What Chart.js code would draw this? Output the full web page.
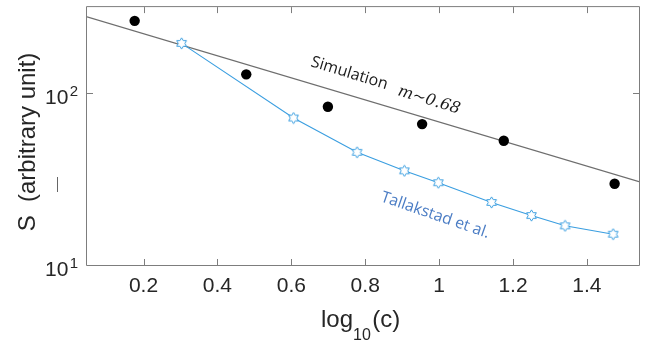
<!DOCTYPE html>
<html>
<head>
<meta charset="utf-8">
<script src="https://cdn.jsdelivr.net/npm/chart.js@4/dist/chart.umd.min.js"></script>
<style>
html,body{margin:0;padding:0;background:#fff;}
#wrap{width:653px;height:345px;}
</style>
</head>
<body>
<div id="wrap"><canvas id="c" width="653" height="345"></canvas></div>
<script>
// ---- data ----
const simX = [0.176, 0.478, 0.699, 0.954, 1.175, 1.475];
const simY = [263, 128.5, 83.2, 66, 52.8, 29.7];
const talX = [0.303, 0.606, 0.778, 0.906, 0.998, 1.142, 1.250, 1.341, 1.471];
const talY = [194.5, 71.6, 45.2, 35.3, 30.1, 23.1, 19.4, 16.9, 15.1];
const fitX = [0.047, 1.541];
const fitY = [277.7, 30.5];
const xTicks = [0.2, 0.4, 0.6, 0.8, 1, 1.2, 1.4];
const yTicks = [10, 100];
const yTickBase = ['10', '10'];
const yTickExp = ['1', '2'];
const xMin = 0.047, xMax = 1.541, yMin = 10, yMax = 316.2;

const SANS = '"Liberation Sans", Arial, Helvetica, sans-serif';

// hexagram point marker
function makeStar(color){
  const s = 13, c = document.createElement('canvas');
  c.width = s; c.height = s;
  const g = c.getContext('2d');
  const R = 5.6, r = 3.3, cx = s/2, cy = s/2;
  g.beginPath();
  for (let i = 0; i < 12; i++) {
    const a = -Math.PI/2 + i*Math.PI/6;
    const rad = (i % 2 === 0) ? R : r;
    const px = cx + rad*Math.cos(a), py = cy + rad*Math.sin(a);
    if (i === 0) g.moveTo(px, py); else g.lineTo(px, py);
  }
  g.closePath();
  g.fillStyle = '#fff';
  g.fill();
  g.strokeStyle = color;
  g.lineWidth = 1;
  g.stroke();
  return c;
}
const starImg = makeStar('#3a9ee0');

const decor = {
  id: 'decor',
  afterDraw(chart){
    const ctx = chart.ctx, a = chart.chartArea;
    const xs = chart.scales.x, ys = chart.scales.y;
    ctx.save();
    // box
    ctx.strokeStyle = '#7d7d7d';
    ctx.lineWidth = 1;
    ctx.beginPath();
    ctx.rect(a.left - 0.5, a.top - 0.5, a.right - a.left + 1, a.bottom - a.top + 1);
    ctx.stroke();
    // inward ticks
    ctx.beginPath();
    xTicks.forEach(v => {
      const px = Math.round(xs.getPixelForValue(v)) + 0.5;
      ctx.moveTo(px, a.bottom); ctx.lineTo(px, a.bottom - 6);
      ctx.moveTo(px, a.top); ctx.lineTo(px, a.top + 6);
    });
    yTicks.forEach(v => {
      const py = Math.round(ys.getPixelForValue(v)) + 0.5;
      ctx.moveTo(a.left, py); ctx.lineTo(a.left + 6, py);
      ctx.moveTo(a.right, py); ctx.lineTo(a.right - 6, py);
    });
    ctx.stroke();

    // y tick labels with superscripts
    ctx.fillStyle = '#262626';
    ctx.textAlign = 'left';
    ctx.textBaseline = 'alphabetic';
    yTicks.forEach((v, i) => {
      const py = ys.getPixelForValue(v);
      ctx.font = '21px ' + SANS;
      ctx.fillText(yTickBase[i], 45, py + 11);
      const w = ctx.measureText(yTickBase[i]).width;
      ctx.font = '15px ' + SANS;
      ctx.fillText(yTickExp[i], 45 + w + 1.5, py + 2.5);
    });

    // x axis title: log10(c)
    ctx.font = '24px ' + SANS;
    let x = 321;
    ctx.fillText('log', x, 327);
    x += ctx.measureText('log').width;
    ctx.font = '16px ' + SANS;
    ctx.fillText('10', x, 340);
    x += ctx.measureText('10').width + 1.5;
    ctx.font = '24px ' + SANS;
    ctx.fillText('(c)', x, 327);

    // y axis title
    ctx.save();
    ctx.translate(35, 142);
    ctx.rotate(-Math.PI/2);
    ctx.font = '24px ' + SANS;
    ctx.textAlign = 'center';
    ctx.fillText('S  (arbitrary unit)', 0, 0);
    ctx.restore();
    // stray dash beside the y title
    ctx.save();
    ctx.translate(57, 184.5);
    ctx.rotate(-Math.PI/2);
    ctx.font = '15px ' + SANS;
    ctx.textAlign = 'center';
    ctx.textBaseline = 'middle';
    ctx.fillStyle = '#666';
    ctx.fillText('\u2014', 0, 0);
    ctx.restore();

    // annotation: Simulation m~0.68
    ctx.save();
    ctx.translate(310, 66);
    ctx.rotate(17 * Math.PI/180);
    ctx.fillStyle = '#1a1a1a';
    ctx.font = '16px "Open Sans", "Noto Sans", sans-serif';
    ctx.fillText('Simulation', 0, 0);
    ctx.restore();
    ctx.save();
    ctx.translate(397, 95);
    ctx.rotate(17 * Math.PI/180);
    ctx.fillStyle = '#1a1a1a';
    ctx.font = 'italic 16px "DejaVu Serif", "Liberation Serif", serif';
    ctx.fillText('m~0.68', 0, 0);
    ctx.restore();

    // annotation: Tallakstad et al.
    ctx.save();
    ctx.translate(380, 201);
    ctx.rotate(19 * Math.PI/180);
    ctx.fillStyle = '#4a7cc4';
    ctx.font = '15.8px "Open Sans", "Noto Sans", sans-serif';
    ctx.fillText('Tallakstad et al.', 0, 0);
    ctx.restore();

    ctx.restore();
  }
};

new Chart(document.getElementById('c'), {
  type: 'scatter',
  data: {
    datasets: [
      {
        label: 'Simulation',
        data: simX.map((x, i) => ({x, y: simY[i]})),
        pointStyle: 'circle',
        pointRadius: 5.2,
        backgroundColor: '#000',
        borderColor: '#000',
        borderWidth: 0,
        showLine: false
      },
      {
        label: 'Tallakstad et al.',
        data: talX.map((x, i) => ({x, y: talY[i]})),
        showLine: true,
        borderColor: '#3a9ee0',
        borderWidth: 1.1,
        pointStyle: starImg,
        pointRadius: 6,
        tension: 0
      },
      {
        label: 'fit m~0.68',
        data: fitX.map((x, i) => ({x, y: fitY[i]})),
        showLine: true,
        borderColor: '#6e6e6e',
        borderWidth: 1.3,
        pointRadius: 0,
        tension: 0
      }
    ]
  },
  options: {
    responsive: false,
    animation: false,
    events: [],
    layout: { padding: { top: 7, right: 14, left: 0, bottom: 0 } },
    plugins: { legend: { display: false }, tooltip: { enabled: false } },
    scales: {
      x: {
        type: 'linear',
        min: xMin, max: xMax,
        grid: { display: false, drawTicks: false },
        border: { display: false },
        ticks: {
          padding: 9,
          color: '#262626',
          font: { family: SANS, size: 21 },
          maxRotation: 0,
          autoSkip: false,
          callback: v => String(Math.round(v * 10) / 10)
        },
        afterBuildTicks: s => { s.ticks = xTicks.map(v => ({ value: v })); },
        afterFit: s => { s.height = 80; }
      },
      y: {
        type: 'logarithmic',
        min: yMin, max: yMax,
        grid: { display: false, drawTicks: false },
        border: { display: false },
        ticks: { display: false },
        afterBuildTicks: s => { s.ticks = yTicks.map(v => ({ value: v })); },
        afterFit: s => { s.width = 87; }
      }
    }
  },
  plugins: [decor]
});
</script>
</body>
</html>
